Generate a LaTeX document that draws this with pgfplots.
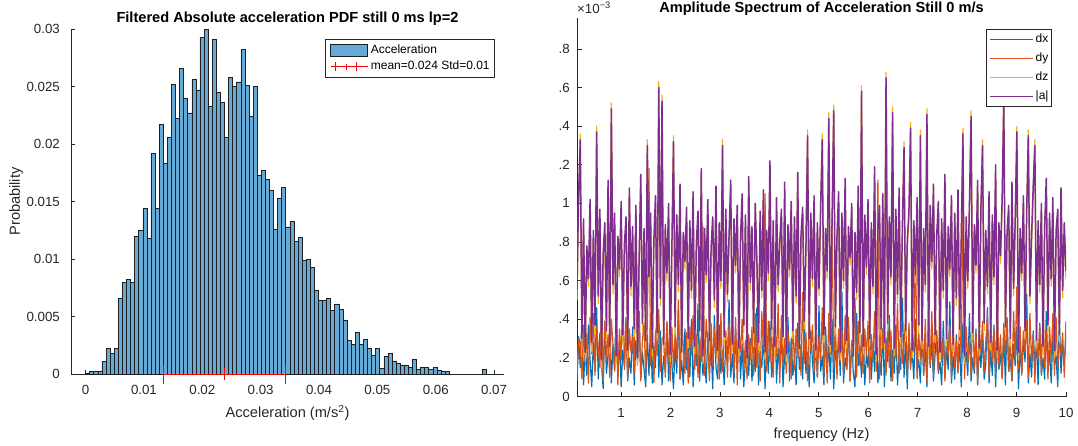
\documentclass[border=0pt]{standalone}
\usepackage{pgfplots}
\pgfplotsset{compat=1.18}
\usepackage{pgfplotstable}
\usepackage{fontspec}
\setmainfont{Liberation Sans}

\definecolor{histblue}{rgb}{0.40,0.668,0.845}
\definecolor{mblue}{rgb}{0,0.447,0.741}
\definecolor{morange}{rgb}{0.85,0.325,0.098}
\definecolor{myellow}{rgb}{0.929,0.694,0.125}
\definecolor{mpurple}{rgb}{0.494,0.184,0.556}
\definecolor{axgray}{rgb}{0.15,0.15,0.15}

\newcommand\fticks{\fontsize{13.3pt}{15pt}\selectfont}
\newcommand\flabel{\fontsize{14.6pt}{17pt}\selectfont}
\newcommand\fleg{\fontsize{12pt}{14pt}\selectfont}

% histogram: left bin edge, probability (bin width 0.0007)
\pgfplotstableread[row sep=\\]{
x y\\
0.0000 0.0001\\ 0.0007 0.0002\\ 0.0014 0.0002\\ 0.0021 0.0002\\ 0.0028 0.0011\\
0.0035 0.0022\\ 0.0042 0.0018\\ 0.0049 0.0022\\ 0.0056 0.0066\\ 0.0063 0.0080\\
0.0070 0.0082\\ 0.0077 0.0080\\ 0.0084 0.0120\\ 0.0091 0.0125\\ 0.0098 0.0144\\
0.0105 0.0118\\ 0.0112 0.0192\\ 0.0119 0.0144\\ 0.0126 0.0217\\ 0.0133 0.0183\\
0.0140 0.0206\\ 0.0147 0.0252\\ 0.0154 0.0222\\ 0.0161 0.0266\\ 0.0168 0.0240\\
0.0175 0.0227\\ 0.0182 0.0256\\ 0.0189 0.0247\\ 0.0196 0.0293\\ 0.0203 0.0300\\
0.0210 0.0233\\ 0.0217 0.0291\\ 0.0224 0.0245\\ 0.0231 0.0236\\ 0.0238 0.0206\\
0.0245 0.0258\\ 0.0252 0.0250\\ 0.0259 0.0254\\ 0.0266 0.0282\\ 0.0273 0.0251\\
0.0280 0.0224\\ 0.0287 0.0250\\ 0.0294 0.0173\\ 0.0301 0.0177\\ 0.0308 0.0169\\
0.0315 0.0160\\ 0.0322 0.0126\\ 0.0329 0.0153\\ 0.0336 0.0162\\ 0.0343 0.0128\\
0.0350 0.0133\\ 0.0357 0.0115\\ 0.0364 0.0119\\ 0.0371 0.0099\\ 0.0378 0.0100\\
0.0385 0.0093\\ 0.0392 0.0073\\ 0.0399 0.0064\\ 0.0406 0.0064\\ 0.0413 0.0066\\
0.0420 0.0055\\ 0.0427 0.0061\\ 0.0434 0.0056\\ 0.0441 0.0047\\ 0.0448 0.0029\\
0.0455 0.0026\\ 0.0462 0.0036\\ 0.0469 0.0026\\ 0.0476 0.0030\\ 0.0483 0.0022\\
0.0490 0.0016\\ 0.0497 0.0022\\ 0.0504 0.0005\\ 0.0511 0.0015\\ 0.0518 0.0018\\
0.0525 0.0011\\ 0.0532 0.0009\\ 0.0539 0.0008\\ 0.0546 0.0008\\ 0.0553 0.0006\\
0.0560 0.0013\\ 0.0567 0.0004\\ 0.0574 0.0006\\ 0.0581 0.0006\\ 0.0588 0.0004\\
0.0595 0.0006\\ 0.0602 0.0003\\ 0.0609 0.0002\\ 0.0616 0.0002\\ 0.0623 0\\
0.0630 0\\ 0.0637 0\\ 0.0644 0\\ 0.0651 0\\ 0.0658 0\\
0.0665 0\\ 0.0672 0\\ 0.0679 0.0004\\ 0.0686 0\\
}\hist

% amplitude spectra (x 10^-3), one row per frequency bin, bins 0.03307 Hz apart from 0.11 Hz
\pgfplotstableread[row sep=\\]{
dx dy dz a\\
0.08 0.12 0.50 0.55\\ 0.31 0.30 1.00 1.05\\ 0.15 0.28 1.36 1.33\\ 0.42 0.09 0.25 0.30\\ 0.06 0.37 0.88 0.92\\
0.25 0.18 0.18 0.23\\ 0.11 0.33 0.74 0.78\\ 0.37 0.07 0.57 0.61\\ 0.19 0.41 0.97 1.02\\ 0.05 0.22 0.23 0.28\\
0.28 0.43 0.81 0.86\\ 0.13 0.11 0.32 0.37\\ 0.46 0.36 1.40 1.37\\ 0.09 0.25 0.48 0.52\\ 0.33 0.15 0.92 0.97\\
0.17 0.47 0.15 0.19\\ 0.04 0.08 0.70 0.74\\ 0.39 0.39 0.85 0.90\\ 0.12 0.20 0.30 0.34\\ 0.22 0.32 1.07 1.12\\
0.35 0.10 0.22 0.26\\ 0.07 0.40 1.52 1.49\\ 0.27 0.27 0.53 0.58\\ 0.14 0.13 0.90 0.95\\ 0.51 0.43 0.17 0.21\\
0.10 0.06 0.78 0.83\\ 0.30 0.35 0.62 0.66\\ 0.05 0.19 0.96 1.01\\ 0.24 0.56 0.27 0.32\\ 0.16 0.14 0.75 0.79\\
0.41 0.38 0.88 0.93\\ 0.08 0.09 0.20 0.24\\ 0.20 0.35 1.03 1.08\\ 0.12 0.23 0.52 0.57\\ 0.36 0.31 0.84 0.88\\
0.06 0.12 0.31 0.35\\ 0.29 0.96 0.94 0.99\\ 0.18 0.17 0.16 0.20\\ 0.44 0.44 0.68 0.72\\ 0.09 0.08 1.10 1.15\\
0.23 0.29 0.34 0.38\\ 0.14 0.38 0.82 0.87\\ 0.05 0.11 0.25 0.29\\ 0.32 0.37 1.33 1.30\\ 0.11 1.18 0.58 0.62\\
0.40 0.16 0.90 0.95\\ 0.07 0.42 0.21 0.25\\ 0.26 0.07 0.77 0.81\\ 0.15 0.34 0.99 1.04\\ 0.55 0.21 0.29 0.33\\
0.10 0.45 1.63 1.60\\ 0.34 0.13 0.47 0.51\\ 0.06 0.30 1.56 1.53\\ 0.21 0.31 0.23 0.27\\ 0.13 0.10 0.85 0.89\\
0.38 0.39 0.60 0.64\\ 0.08 0.24 0.95 1.00\\ 0.30 0.08 0.18 0.22\\ 0.17 0.36 0.72 0.76\\ 0.04 0.15 1.35 1.32\\
0.27 0.33 0.32 0.36\\ 0.12 0.19 0.89 0.94\\ 0.45 0.50 0.54 0.58\\ 0.09 0.09 1.05 1.10\\ 0.19 0.41 0.19 0.23\\
0.06 0.26 0.81 0.85\\ 0.35 0.12 0.66 0.70\\ 0.14 0.33 0.93 0.98\\ 0.25 0.07 0.26 0.30\\ 0.10 0.36 0.87 0.91\\
0.40 0.22 0.51 0.55\\ 0.05 0.42 1.01 1.06\\ 0.23 0.14 0.22 0.26\\ 0.16 0.32 0.76 0.80\\ 0.48 0.10 0.91 0.96\\
0.08 0.30 0.30 0.34\\ 0.31 0.18 1.13 1.18\\ 0.11 0.88 0.17 0.21\\ 0.20 0.11 0.83 0.87\\ 0.07 0.40 0.59 0.63\\
0.33 0.27 0.97 1.02\\ 0.13 0.08 0.25 0.29\\ 0.26 0.38 0.73 0.77\\ 0.04 0.16 0.88 0.93\\ 0.42 0.35 0.46 0.50\\
0.15 0.20 1.04 1.09\\ 0.09 0.47 0.20 0.24\\ 0.37 0.09 0.86 0.90\\ 0.12 0.43 0.56 0.60\\ 0.24 0.13 1.33 1.30\\
0.06 0.30 0.27 0.31\\ 0.29 0.34 0.92 0.97\\ 0.18 0.10 0.49 0.53\\ 0.50 0.38 0.80 0.84\\ 0.10 0.17 1.07 1.12\\
0.22 0.59 0.23 0.27\\ 0.07 0.12 0.88 0.92\\ 0.34 0.41 0.64 0.68\\ 0.14 0.06 0.94 0.99\\ 0.43 0.34 0.21 0.25\\
0.09 0.23 0.78 0.82\\ 0.27 0.40 1.00 1.05\\ 0.05 0.14 0.33 0.37\\ 0.19 0.29 0.89 0.94\\ 0.36 0.09 0.16 0.20\\
0.11 0.32 1.09 1.14\\ 0.30 0.19 0.55 0.59\\ 0.08 0.36 0.84 0.88\\ 0.24 0.11 0.29 0.33\\ 0.13 0.43 0.95 1.00\\
0.46 0.15 0.67 0.71\\ 0.06 0.32 0.24 0.28\\ 0.21 0.08 0.91 0.96\\ 0.15 0.44 0.51 0.55\\ 0.33 0.25 1.02 1.07\\
0.04 1.05 0.19 0.23\\ 0.28 0.13 0.82 0.86\\ 0.12 0.39 0.60 0.64\\ 0.39 0.18 1.17 1.22\\ 0.10 0.36 0.31 0.35\\
0.17 0.10 0.87 0.91\\ 0.52 0.37 0.22 0.26\\ 0.07 0.21 0.98 1.03\\ 0.25 0.48 0.54 0.58\\ 0.13 0.07 0.76 0.80\\
0.35 0.42 0.92 0.97\\ 0.05 0.16 0.27 0.31\\ 0.22 0.30 1.06 1.11\\ 0.16 0.12 0.18 0.22\\ 0.41 0.33 0.85 0.89\\
0.08 0.26 0.62 0.66\\ 0.30 0.09 0.96 1.01\\ 0.11 0.41 0.30 0.34\\ 0.20 0.14 0.88 0.93\\ 0.06 0.35 0.48 0.52\\
0.38 0.20 1.11 1.16\\ 0.14 0.30 0.21 0.25\\ 0.27 0.11 0.80 0.84\\ 0.09 0.54 0.93 0.98\\ 0.44 0.17 0.35 0.39\\
0.12 0.33 0.73 0.77\\ 0.23 0.08 1.38 1.35\\ 0.05 0.40 0.26 0.30\\ 0.34 0.24 0.90 0.95\\ 0.18 0.37 0.57 0.61\\
0.07 0.13 0.99 1.04\\ 0.29 0.37 0.20 0.24\\ 0.10 0.10 0.86 0.90\\ 0.47 0.31 0.52 0.56\\ 0.13 0.19 0.94 0.99\\
0.21 0.46 1.36 1.33\\ 0.06 0.12 0.28 0.32\\ 0.36 0.31 0.83 0.87\\ 0.15 0.07 0.61 0.65\\ 0.26 0.43 1.47 1.44\\
0.09 0.22 0.23 0.27\\ 0.40 0.92 0.88 0.92\\ 0.04 0.15 1.51 1.48\\ 0.24 0.38 0.32 0.36\\ 0.17 0.09 0.79 0.83\\
0.31 0.35 1.01 1.06\\ 0.11 0.18 0.19 0.23\\ 0.54 0.34 0.90 0.95\\ 0.07 0.11 0.56 0.60\\ 0.20 0.42 1.08 1.13\\
0.14 0.14 0.25 0.29\\ 0.37 0.41 0.84 0.88\\ 0.08 0.08 0.68 0.72\\ 0.28 0.29 0.95 1.00\\ 0.12 0.23 0.17 0.21\\
0.05 0.51 0.81 0.85\\ 0.43 0.10 0.50 0.54\\ 0.16 0.39 1.04 1.09\\ 0.25 0.16 0.29 0.33\\ 0.10 0.32 1.61 1.58\\
0.33 0.12 0.22 0.26\\ 0.06 0.35 0.89 0.94\\ 0.22 0.21 0.63 0.67\\ 0.15 0.39 0.97 1.02\\ 0.39 0.07 0.26 0.30\\
0.09 0.32 0.86 0.90\\ 0.27 0.19 0.53 0.57\\ 0.13 0.44 1.14 1.19\\ 0.48 0.13 0.18 0.22\\ 0.07 1.12 0.82 0.86\\
0.19 0.09 0.94 0.99\\ 0.11 0.40 0.31 0.35\\ 0.35 0.25 1.00 1.05\\ 0.05 0.43 0.24 0.28\\ 0.30 0.11 1.68 1.65\\
0.18 0.36 0.34 0.38\\ 0.42 0.15 0.88 0.93\\ 0.08 0.34 0.58 0.62\\ 0.24 0.08 1.50 1.47\\ 0.12 0.30 0.21 0.25\\
0.37 0.20 0.92 0.97\\ 0.06 0.48 0.49 0.53\\ 0.21 0.12 1.03 1.08\\ 0.14 0.42 0.27 0.31\\ 0.51 0.17 0.85 0.89\\
0.10 0.27 1.32 1.29\\ 0.28 0.40 0.30 0.34\\ 0.04 0.10 0.77 0.81\\ 0.33 0.38 0.91 0.96\\ 0.16 0.14 1.42 1.39\\
0.23 0.31 0.20 0.24\\ 0.09 0.23 0.87 0.91\\ 0.40 0.81 0.59 0.63\\ 0.13 0.09 0.98 1.03\\ 0.19 0.33 0.33 0.37\\
0.07 0.19 1.38 1.35\\ 0.36 0.36 0.25 0.29\\ 0.11 0.12 0.83 0.87\\ 0.26 0.40 0.54 0.58\\ 0.05 0.07 1.49 1.46\\
0.45 0.35 0.22 0.26\\ 0.15 0.16 0.94 0.99\\ 0.29 0.44 0.66 0.70\\ 0.08 0.11 1.05 1.10\\ 0.22 0.44 0.28 0.32\\
0.34 0.24 0.80 0.84\\ 0.12 0.13 0.96 1.01\\ 0.18 0.52 0.19 0.23\\ 0.06 0.18 0.87 0.92\\ 0.39 0.31 0.51 0.55\\
0.10 0.08 1.10 1.15\\ 0.25 0.33 0.26 0.30\\ 0.14 0.21 0.84 0.88\\ 0.49 0.37 0.62 0.66\\ 0.07 0.10 0.99 1.04\\
0.21 0.38 0.23 0.27\\ 0.09 0.15 0.90 0.95\\ 0.32 0.29 0.47 0.51\\ 0.13 0.12 1.02 1.07\\ 0.27 0.42 0.31 0.35\\
0.05 0.20 0.78 0.82\\ 0.38 0.98 1.39 1.36\\ 0.16 0.09 0.17 0.21\\ 0.23 0.36 0.88 0.93\\ 0.11 0.17 0.56 0.60\\
0.43 0.30 0.95 1.00\\ 0.08 0.11 1.48 1.45\\ 0.20 0.45 0.29 0.33\\ 0.12 0.14 0.85 0.89\\ 0.35 0.33 0.64 0.68\\
0.06 0.07 1.07 1.12\\ 0.26 0.35 0.21 0.25\\ 0.15 0.22 0.92 0.97\\ 0.31 0.39 1.33 1.30\\ 0.09 0.13 0.34 0.38\\
0.17 0.28 0.82 0.86\\ 0.46 0.42 0.53 0.57\\ 0.07 0.10 1.01 1.06\\ 0.24 0.41 0.24 0.28\\ 0.11 0.18 0.89 0.94\\
0.37 0.35 0.58 0.62\\ 0.05 0.12 1.15 1.20\\ 0.29 0.49 0.20 0.24\\ 0.14 0.16 0.86 0.90\\ 0.22 0.32 0.69 0.73\\
0.10 0.09 0.97 1.02\\ 0.33 0.38 1.57 1.54\\ 0.06 0.21 0.32 0.36\\ 0.41 0.40 0.81 0.85\\ 0.13 0.13 0.94 0.99\\
0.19 0.30 0.26 0.30\\ 0.08 0.08 1.06 1.11\\ 0.27 0.44 0.52 0.56\\ 0.16 0.19 0.88 0.92\\ 0.36 0.57 1.40 1.37\\
0.04 0.14 0.19 0.23\\ 0.25 0.36 0.83 0.87\\ 0.12 0.11 0.60 0.64\\ 0.30 0.34 0.99 1.04\\ 0.18 0.23 0.30 0.34\\
0.53 0.40 0.91 0.96\\ 0.07 0.10 1.38 1.35\\ 0.22 0.43 0.48 0.52\\ 0.10 0.17 0.79 0.83\\ 0.34 0.32 1.04 1.09\\
0.15 0.07 1.33 1.30\\ 0.28 0.31 0.25 0.29\\ 0.06 0.20 0.87 0.91\\ 0.38 0.37 0.54 0.58\\ 0.11 0.12 0.95 1.00\\
0.20 0.47 0.22 0.26\\ 0.09 0.15 0.84 0.88\\ 0.44 0.34 1.08 1.13\\ 0.13 0.09 0.33 0.37\\ 0.24 0.36 0.90 0.95\\
0.07 0.18 0.57 0.61\\ 0.32 0.43 0.98 1.03\\ 0.16 0.11 0.20 0.24\\ 0.21 0.41 0.82 0.86\\ 0.05 0.14 0.92 0.97\\
0.40 0.29 0.28 0.32\\ 0.12 0.21 1.03 1.08\\ 0.27 0.33 0.51 0.55\\ 0.18 0.10 0.86 0.90\\ 0.30 0.39 0.61 0.65\\
}\spec

\begin{document}
\begin{tikzpicture}[x=1pt,y=1pt]
% ---------------- left: histogram ----------------
\begin{axis}[
  name=left, at={(71pt,71pt)}, anchor=south west,
  scale only axis, width=433pt, height=345pt,
  xmin=-0.0025, xmax=0.0717, ymin=0, ymax=0.03,
  clip=false, scaled ticks=false,
  axis lines*=left,
  axis line style={axgray, line width=0.6pt},
  tick align=inside, major tick length=4pt,
  tick style={axgray, line width=0.6pt},
  xtick={0,0.01,0.02,0.03,0.04,0.05,0.06,0.07},
  xticklabels={0,0.01,0.02,0.03,0.04,0.05,0.06,0.07},
  ytick={0,0.005,0.01,0.015,0.02,0.025,0.03},
  yticklabels={0,0.005,0.01,0.015,0.02,0.025,0.03},
  tick label style={font=\fticks, text=axgray, inner sep=0pt},
  xticklabel style={anchor=base, yshift=-20pt},
  yticklabel style={anchor=east, xshift=-11pt},
  title={Filtered Absolute acceleration PDF still 0 ms lp=2},
  title style={font=\bfseries\flabel, at={(axis description cs:0.5,1)}, anchor=base, yshift=0.7pt, inner sep=0pt},
  xlabel={Acceleration (m/s\textsuperscript{2})},
  xlabel style={font=\flabel, text=axgray, at={(axis description cs:0.5,0)}, anchor=base, yshift=-43.8pt, inner sep=0pt},
  ylabel={Probability},
  ylabel style={font=\flabel, text=axgray, at={(axis description cs:-0.127,0.5)}, anchor=center, inner sep=0pt},
  legend cell align=left,
  legend style={at={(0.979,0.971)}, anchor=north east, draw=axgray, line width=0.5pt, fill=white,
    font=\fleg, inner xsep=5pt, inner ysep=4.5pt, row sep=5pt, column sep=3pt,
    nodes={inner sep=0pt, text height=8.5pt, text depth=2.5pt}},
]
\addplot[ybar interval, fill=histblue, draw=black!88, line width=0.55pt,
  legend image code/.code={
    \draw[fill=histblue, draw=black!88, line width=0.55pt, mark=none] (5pt,-6pt) rectangle (42pt,6pt);}]
  table[x=x, y=y] {\hist};
\addlegendentry{Acceleration}
\addplot[red, line width=0.7pt, mark=+, mark size=6pt, mark options={red, line width=0.7pt},
  legend image code/.code={
    \path (5pt,0pt) -- (42pt,0pt);
    \draw[red, line width=0.7pt, mark=none] (10pt,0pt) -- (31pt,0pt);
    \draw[red, line width=0.7pt, mark=none] (10pt,-4.5pt) -- (10pt,4.5pt);
    \draw[red, line width=0.7pt, mark=none] (31pt,-4.5pt) -- (31pt,4.5pt);
    \draw[red, line width=0.7pt, mark=none] (20.5pt,-3pt) -- (20.5pt,3pt);},
  error bars/.cd, x dir=both, x explicit, error mark=|,
  error bar style={red, line width=0.7pt},
  error mark options={red, mark size=9.5pt, line width=0.7pt}]
  coordinates {(0.0238,0) +- (0.0105,0)};
\addlegendentry{mean=0.024 Std=0.01}
\end{axis}

% ---------------- right: amplitude spectrum ----------------
\begin{axis}[
  name=right, at={(577pt,48.5pt)}, anchor=south west,
  scale only axis, width=489pt, height=378.5pt,
  xmin=0.11, xmax=10, ymin=0, ymax=1.96,
  axis lines*=left,
  axis line style={axgray, line width=0.6pt},
  tick align=inside, major tick length=5pt,
  tick style={axgray, line width=0.6pt},
  xtick={1,2,3,4,5,6,7,8,9,10},
  xticklabels={1,2,3,4,5,6,7,8,9,10},
  ytick={0,0.2,0.4,0.6,0.8,1,1.2,1.4,1.6,1.8},
  yticklabels={0,.2,.4,.6,.8,1,.2,.4,.6,.8},
  tick label style={font=\fticks, text=axgray, inner sep=0pt},
  xticklabel style={anchor=base, yshift=-20.5pt},
  yticklabel style={anchor=east, xshift=-7pt},
  title={Amplitude Spectrum of Acceleration Still 0 m/s},
  title style={font=\bfseries\flabel, at={(axis description cs:0.5,1)}, anchor=base, yshift=0pt, inner sep=0pt},
  xlabel={frequency (Hz)},
  xlabel style={font=\flabel, text=axgray, at={(axis description cs:0.5,0)}, anchor=base, yshift=-41.5pt, inner sep=0pt},
  legend cell align=left,
  legend style={at={(0.971,0.971)}, anchor=north east, draw=axgray, line width=0.5pt, fill=white,
    font=\fleg, inner xsep=3pt, inner ysep=4.5pt, row sep=8pt, column sep=2pt,
    nodes={inner sep=0pt, text height=8.5pt, text depth=2.5pt}},
  legend image code/.code={\draw[#1, line width=1pt] (3pt,0pt) -- (46pt,0pt);},
  every axis plot/.append style={line width=1.2pt, line join=round, mark=none},
]
\addplot[mblue] table[x expr=0.11+\coordindex*0.03307, y=dx] {\spec};
\addlegendentry{dx}
\addplot[morange] table[x expr=0.11+\coordindex*0.03307, y=dy] {\spec};
\addlegendentry{dy}
\addplot[myellow] table[x expr=0.11+\coordindex*0.03307, y=dz] {\spec};
\addlegendentry{dz}
\addplot[mpurple, line width=1.5pt] table[x expr=0.11+\coordindex*0.03307, y=a] {\spec};
\addlegendentry{|a|}
\end{axis}
\node[anchor=base west, font=\fticks, text=axgray, inner sep=0pt] at ([yshift=4.3pt]right.north west) {×10\textsuperscript{−3}};

\pgfresetboundingbox
\path (0pt,0pt) rectangle (1078pt,445pt);
\end{tikzpicture}
\end{document}
